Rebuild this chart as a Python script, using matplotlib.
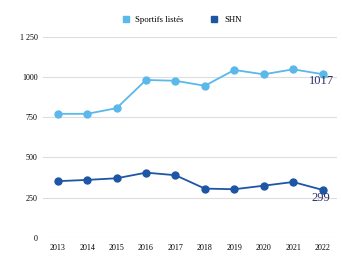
import matplotlib
matplotlib.use("Agg")
import matplotlib.pyplot as plt
from matplotlib.lines import Line2D

# ——— Data ———
years = [2013, 2014, 2015, 2016, 2017, 2018, 2019, 2020, 2021, 2022]
sportifs_listes = [771, 771, 806, 981, 976, 945, 1043, 1016, 1047, 1017]
shn = [353, 361, 371, 406, 390, 307, 303, 325, 348, 299]
y_ticks = [0, 250, 500, 750, 1000, 1250]
y_tick_labels = ["0", "250", "500", "750", "1000", "1 250"]
series_names = ["Sportifs listés", "SHN"]

light = "#5ab8ea"
dark = "#1d56a5"
label_col = "#2b2d6b"

plt.rcParams['font.family'] = ['Liberation Serif', 'DejaVu Serif']

fig = plt.figure(figsize=(3.42, 2.56), dpi=100)
ax = fig.add_axes([0.126, 0.07, 0.86, 0.787])

x = list(range(len(years)))
ax.plot(x, sportifs_listes, color=light, lw=1.3, marker="o", ms=5, zorder=3)
ax.plot(x, shn, color=dark, lw=1.3, marker="o", ms=5, zorder=3)

ax.text(x[-1] - 0.05, sportifs_listes[-1] - 8, str(sportifs_listes[-1]),
        ha="center", va="top", fontsize=9, color=label_col, zorder=4)
ax.text(x[-1] - 0.05, shn[-1] - 12, str(shn[-1]),
        ha="center", va="top", fontsize=9, color=label_col, zorder=4)

ax.set_ylim(0, 1250)
ax.set_xlim(-0.5, len(years) - 0.5)
ax.set_yticks(y_ticks)
ax.set_yticklabels(y_tick_labels, fontsize=5.8)
ax.set_xticks(x)
ax.set_xticklabels([str(y) for y in years], fontsize=5.8)
ax.tick_params(length=0, pad=4)
ax.yaxis.grid(True, color="#dddddd", lw=0.8)
ax.set_axisbelow(True)
for s in ax.spines.values():
    s.set_visible(False)

handles = [Line2D([], [], ls="", marker="s", ms=5, color=c) for c in (light, dark)]
fig.legend(handles, series_names, loc="upper center", bbox_to_anchor=(0.53, 0.97),
           ncol=2, frameon=False, fontsize=6.3, handletextpad=0.6, columnspacing=3,
           handlelength=1)

fig.savefig("out.png", dpi=100, facecolor="white")
